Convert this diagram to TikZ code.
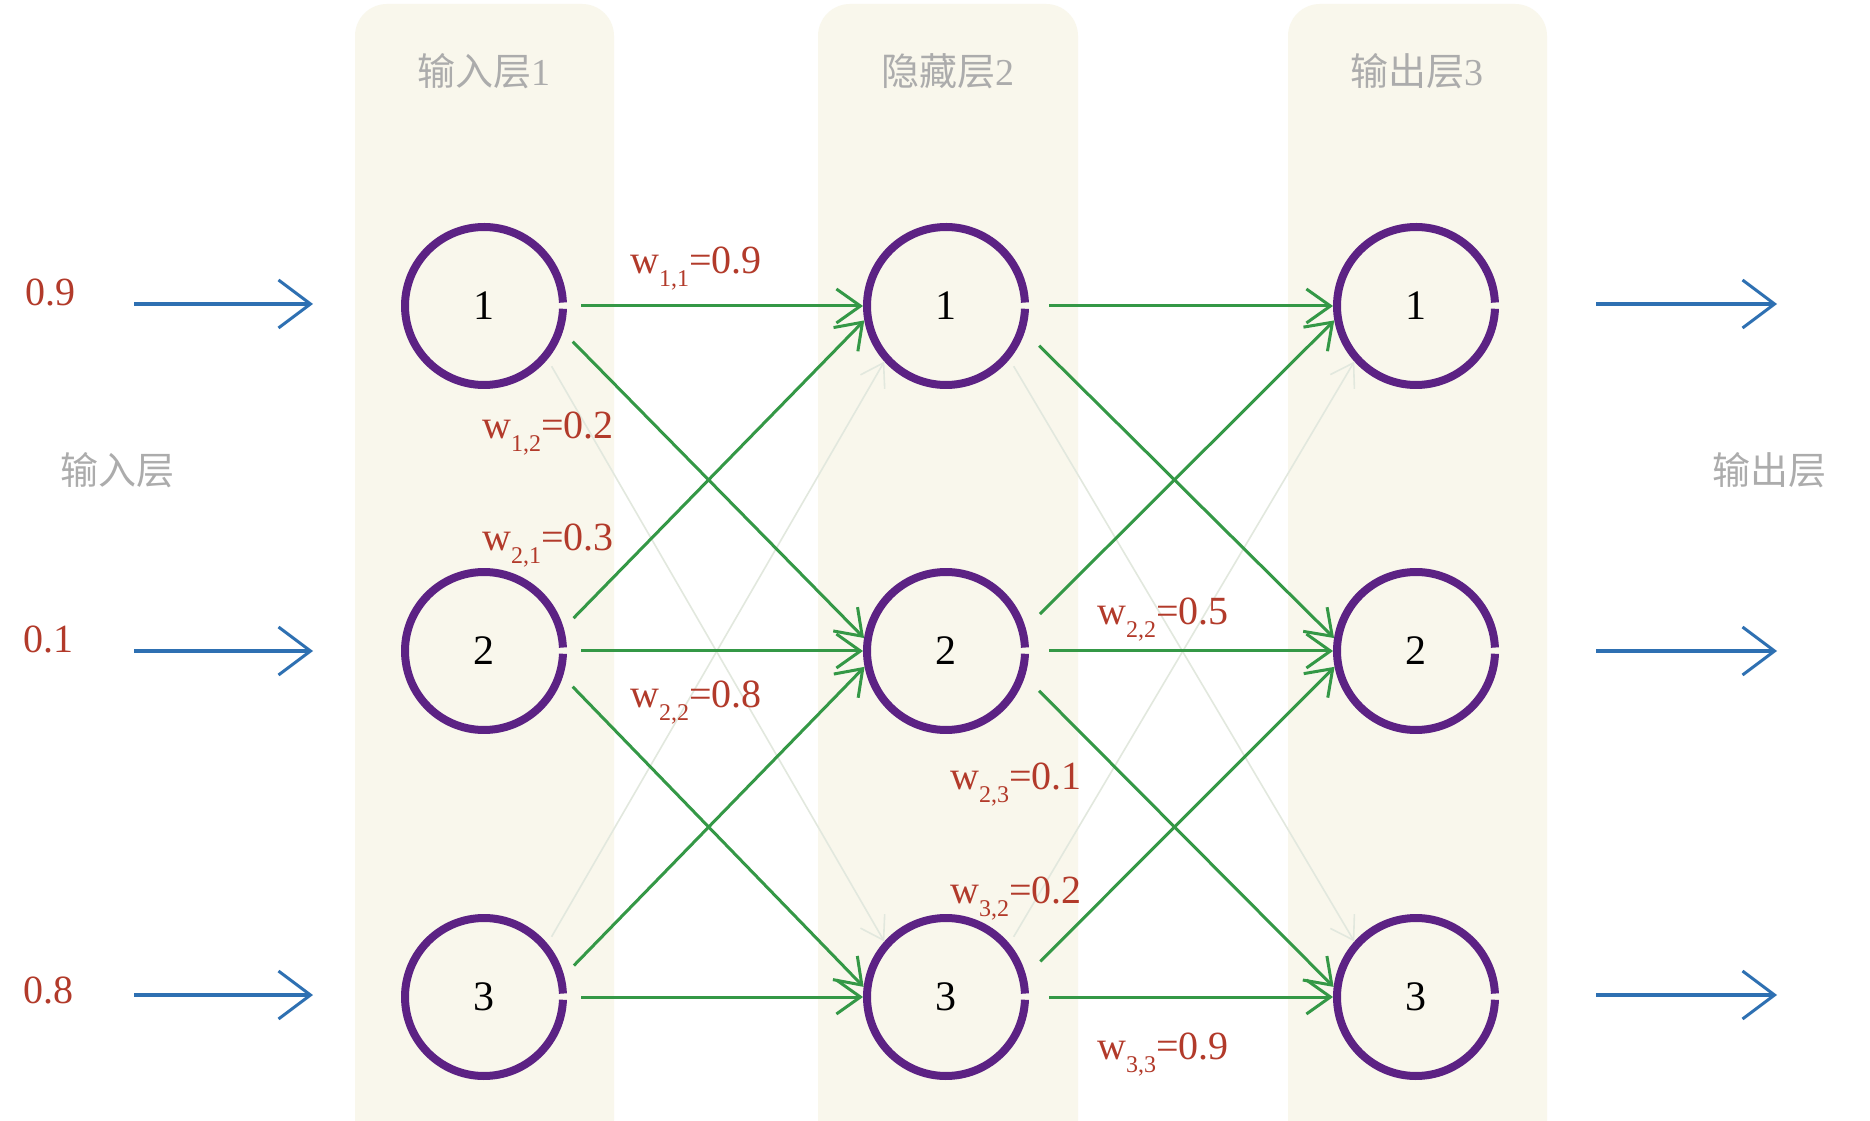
\documentclass[tikz,border=0pt]{standalone}
\usepackage{fontspec}
\setmainfont{Liberation Serif}
\newfontfamily\cjk{Noto Sans CJK SC}
\usetikzlibrary{arrows.meta}
\definecolor{colfill}{RGB}{249,247,236}
\definecolor{nodepurple}{RGB}{92,34,132}
\definecolor{linkgreen}{RGB}{52,152,70}
\definecolor{faintgreen}{RGB}{226,232,222}
\definecolor{arrowblue}{RGB}{46,112,178}
\definecolor{valred}{RGB}{178,58,42}
\definecolor{labgray}{RGB}{172,172,172}
\newcommand\wlab[2]{w\raisebox{-13pt}{\fontsize{24}{24}\selectfont #1}=#2}
\begin{document}
\begin{tikzpicture}[x=1pt,y=1pt,
  column/.style={fill=colfill, rounded corners=32pt},
  neuron/.style={circle, minimum size=166pt, inner sep=0pt, outer sep=0pt, font=\fontsize{42}{42}\selectfont},
  ring/.style={draw=nodepurple, line width=8pt},
  conn/.style={draw=linkgreen, line width=3pt, -{Straight Barb[length=24pt,width=34pt]}},
  faint/.style={draw=faintgreen, line width=1.6pt, -{Straight Barb[length=22pt,width=28pt]}},
  ioarrow/.style={draw=arrowblue, line width=3.6pt, -{Straight Barb[length=32pt,width=48pt,line width=3pt]}},
  collab/.style={anchor=base, text=labgray, font=\fontsize{38}{38}\selectfont},
  sidelab/.style={anchor=base, text=labgray, font=\cjk\fontsize{38}{38}\selectfont},
  val/.style={anchor=base west, text=valred, font=\fontsize{40}{40}\selectfont},
  wt/.style={anchor=base west, text=valred, font=\fontsize{40}{40}\selectfont, inner sep=0pt}
]
\useasboundingbox (0,0) rectangle (1870,1120);
\fill[white] (0,0) rectangle (1870,1120);
% layer columns
\fill[column] (355,-40) rectangle (614,1116);
\fill[column] (818,-40) rectangle (1078,1116);
\fill[column] (1288,-40) rectangle (1547,1116);
% column labels
\node[collab] (t1) at (484,1034) {{\cjk 输入层}1};
\node[collab] (t2) at (948,1034) {{\cjk 隐藏层}2};
\node[collab] (t3) at (1417,1034) {{\cjk 输出层}3};
\node[sidelab] (sl) at (117,635) {输入层};
\node[sidelab] (sr) at (1769,635) {输出层};
% neurons
\node[neuron] (a1) at (484,814) {1};
\node[neuron] (a2) at (484,469) {2};
\node[neuron] (a3) at (484,123) {3};
\node[neuron] (b1) at (946,814) {1};
\node[neuron] (b2) at (946,469) {2};
\node[neuron] (b3) at (946,123) {3};
\node[neuron] (c1) at (1416,814) {1};
\node[neuron] (c2) at (1416,469) {2};
\node[neuron] (c3) at (1416,123) {3};
\foreach \n in {a1,a2,a3,b1,b2,b3,c1,c2,c3}
  \draw[ring] (\n.center) ++(2.5:79pt) arc[start angle=2.5, end angle=358, radius=79pt];
% faint connections
\draw[faint, shorten <=8pt] (a1.-40) -- (b3.138);
\draw[faint, shorten <=8pt] (a3.40) -- (b1.222);
\draw[faint, shorten <=8pt] (b1.-40) -- (c3.138);
\draw[faint, shorten <=8pt] (b3.40) -- (c1.222);
% strong connections layer 1 -> 2
\draw[conn, shorten <=14pt] (a1.0) -- (b1.180);
\draw[conn, shorten <=14pt] (a1.-18) -- (b2.171);
\draw[conn, shorten <=14pt] (a2.16) -- (b1.190);
\draw[conn, shorten <=14pt] (a2.0) -- (b2.180);
\draw[conn, shorten <=14pt] (a2.-18) -- (b3.173);
\draw[conn, shorten <=14pt] (a3.15) -- (b2.191);
\draw[conn, shorten <=14pt] (a3.0) -- (b3.180);
% strong connections layer 2 -> 3
\draw[conn, shorten <=20pt] (b1.0) -- (c1.180);
\draw[conn, shorten <=20pt] (b1.-18) -- (c2.171);
\draw[conn, shorten <=20pt] (b2.16) -- (c1.190);
\draw[conn, shorten <=20pt] (b2.0) -- (c2.180);
\draw[conn, shorten <=20pt] (b2.-18) -- (c3.173);
\draw[conn, shorten <=20pt] (b3.15) -- (c2.191);
\draw[conn, shorten <=20pt] (b3.0) -- (c3.180);
% input values and arrows
\node[val] (v1) at (22,814) {0.9};
\node[val] (v2) at (20,467) {0.1};
\node[val] (v3) at (20,117) {0.8};
\coordinate (i1) at (134,816);
\coordinate (i2) at (134,469);
\coordinate (i3) at (134,125);
\coordinate (j1) at (313,816);
\coordinate (j2) at (313,469);
\coordinate (j3) at (313,125);
\draw[ioarrow] (i1) -- (j1);
\draw[ioarrow] (i2) -- (j2);
\draw[ioarrow] (i3) -- (j3);
\coordinate (o1) at (1596,816);
\coordinate (o2) at (1596,469);
\coordinate (o3) at (1596,125);
\coordinate (p1) at (1777,816);
\coordinate (p2) at (1777,469);
\coordinate (p3) at (1777,125);
\draw[ioarrow] (o1) -- (p1);
\draw[ioarrow] (o2) -- (p2);
\draw[ioarrow] (o3) -- (p3);
% weight labels
\node[wt] (w11) at (630,846) {\wlab{1,1}{0.9}};
\node[wt] (w12) at (482,681) {\wlab{1,2}{0.2}};
\node[wt] (w21) at (482,569) {\wlab{2,1}{0.3}};
\node[wt] (w22) at (630,413) {\wlab{2,2}{0.8}};
\node[wt] (x22) at (1097,495) {\wlab{2,2}{0.5}};
\node[wt] (x23) at (950,331) {\wlab{2,3}{0.1}};
\node[wt] (x32) at (950,217) {\wlab{3,2}{0.2}};
\node[wt] (x33) at (1097,61) {\wlab{3,3}{0.9}};
\end{tikzpicture}
\end{document}
